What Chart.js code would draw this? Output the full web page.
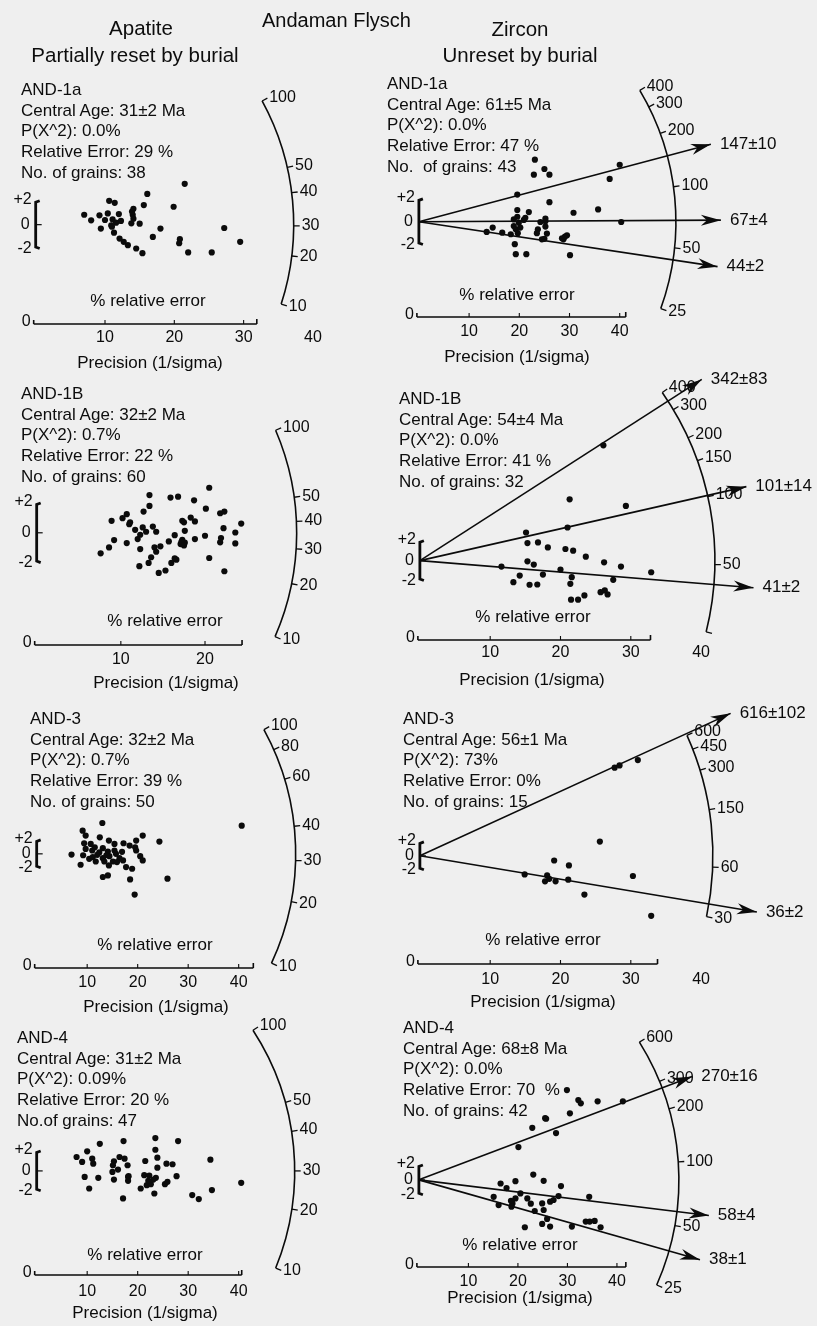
<!DOCTYPE html>
<html>
<head>
<meta charset="utf-8">
<title>Andaman Flysch - radial plots</title>
<script src="https://cdn.jsdelivr.net/npm/chart.js@4.4.1/dist/chart.umd.min.js"></script>
<style>
  body { margin: 0; background: #efefef; }
  #wrap { position: relative; width: 817px; height: 1326px; overflow: hidden;
          font-family: "Liberation Sans", Arial, sans-serif; color: #0d0d0d; }
  #wrap canvas { position: absolute; left: 0; top: 0; }
  .lbl { position: absolute; white-space: pre; line-height: 1; }
</style>
</head>
<body>
<div id="wrap"><canvas id="radial" width="817" height="1326"></canvas></div>
<script>
// grains: [precision (1/sigma), standardised estimate]
var apaAnd1a = [[21.5,3.42],[16.1,2.58],[10.6,2.0],[11.4,1.83],[15.6,1.64],[19.9,1.5],[14.1,1.33],[7.0,0.83],[9.2,0.78],[10.4,0.94],
  [12.0,0.89],[14.0,0.83],[8.0,0.36],[10.0,0.39],[11.1,0.44],[12.3,0.31],[13.8,0.11],[15.0,0.08],[27.2,-0.28],[18.0,-0.33],
  [9.4,-0.33],[11.0,-0.17],[11.3,-0.67],[16.9,-1.03],[12.1,-1.17],[20.8,-1.22],[20.7,-1.56],[12.7,-1.44],[13.3,-1.72],[14.5,-2.0],
  [15.4,-2.39],[22.0,-2.33],[25.4,-2.33],[29.5,-1.44],[14.1,0.5],[11.6,0.17],[10.9,-0.06],[13.9,1.1]];
var zirAnd1a = [[23.1,5.42],[25.0,4.61],[22.9,4.11],[26.0,4.11],[40.0,4.98],[38.0,3.74],[19.6,2.37],[26.0,1.71],[35.7,1.07],[30.8,0.78],
  [19.6,1.02],[21.9,0.84],[25.2,0.26],[19.6,0.43],[20.9,0.15],[19.9,-0.09],[18.9,-0.38],[40.3,-0.03],[25.2,-0.43],[23.7,-0.67],
  [13.5,-0.9],[14.7,-0.52],[16.6,-0.96],[18.3,-1.1],[19.7,-1.01],[23.5,-1.01],[25.5,-1.04],[24.5,-1.54],[25.0,-1.5],[28.8,-1.54],
  [29.5,-1.19],[29.1,-1.3],[19.1,-1.97],[19.3,-2.84],[21.4,-2.84],[30.1,-2.93],[19.3,-0.67],[20.2,-0.52],[21.2,0.34],[18.9,0.2],
  [24.2,-0.03],[28.5,-1.45],[25.2,0.03]];
var apaAnd1b = [[20.5,3.02],[13.4,2.53],[15.9,2.36],[16.8,2.42],[18.7,2.18],[13.4,1.8],[12.7,1.42],[20.1,1.62],[21.8,1.31],[22.3,1.42],
  [10.7,1.25],[10.2,0.98],[18.3,1.02],[17.3,0.8],[17.5,0.7],[8.9,0.8],[11.0,0.58],[11.7,0.2],[13.8,0.42],[14.2,0.07],
  [24.3,0.62],[22.2,0.31],[23.6,0.02],[13.0,0.07],[12.3,-0.13],[12.0,-0.42],[16.4,-0.16],[17.6,0.13],[18.8,-0.42],[20.0,-0.2],
  [17.3,-0.47],[17.1,-0.76],[17.6,-0.66],[15.7,-0.58],[14.7,-0.91],[14.0,-0.98],[12.3,-1.09],[10.7,-0.69],[9.2,-0.49],[8.6,-0.98],
  [7.6,-1.38],[21.8,-0.64],[21.9,-0.35],[14.2,-1.27],[13.6,-1.64],[13.3,-2.02],[20.5,-1.69],[16.4,-1.71],[16.0,-2.02],[12.2,-2.24],
  [14.5,-2.69],[15.3,-2.53],[22.3,-2.58],[18.8,0.76],[17.2,-0.6],[12.6,0.36],[23.6,-0.71],[11.1,0.7],[17.5,-0.85],[16.6,-1.8]];
var zirAnd1b = [[26.1,11.6],[21.3,6.17],[29.3,5.5],[21.0,3.33],[15.1,2.83],[15.3,1.77],[16.8,1.83],[18.2,1.33],[20.7,1.17],[21.8,1.0],
  [23.6,0.4],[15.3,-0.07],[16.2,-0.4],[26.2,-0.17],[28.6,-0.6],[32.9,-1.17],[11.6,-0.6],[20.0,-0.9],[14.2,-1.5],[17.5,-1.4],
  [21.6,-1.67],[27.5,-1.93],[13.3,-2.17],[15.6,-2.43],[16.7,-2.4],[21.4,-2.33],[25.7,-3.17],[26.7,-3.4],[26.3,-3.0],[23.4,-3.5],
  [21.5,-3.93],[22.5,-3.93]];
var apaAnd3 = [[40.6,4.05],[13.0,4.43],[9.1,3.33],[9.7,2.62],[12.5,2.38],[14.3,1.9],[21.0,2.62],[24.3,1.76],[19.7,1.9],[15.4,1.43],
  [17.2,1.52],[9.4,1.52],[18.4,1.19],[19.5,0.95],[6.9,-0.1],[9.7,0.71],[11.0,0.48],[13.1,0.81],[14.1,0.33],[15.4,0.48],
  [12.0,-0.14],[13.1,-0.62],[14.4,-0.33],[15.7,0],[16.4,-0.62],[17.1,-0.95],[20.5,-0.33],[21.0,-0.95],[10.4,-0.71],[8.7,-1.57],
  [11.7,-1.1],[13.4,-1.1],[15.1,-1.1],[17.7,-1.9],[18.9,-2.14],[18.5,-3.67],[13.1,-3.33],[14.1,-3.1],[25.9,-3.57],[19.4,-5.86],
  [12.4,0.2],[13.8,-0.2],[9.2,-0.2],[11.5,0.95],[16.9,0.29],[11.1,-0.48],[15.9,-1.19],[19.7,0.48],[14.3,-1.67],[10.7,1.43]];
var zirAnd3 = [[31.0,13.76],[28.4,13.0],[27.7,12.67],[25.6,2.05],[19.1,-0.67],[21.2,-1.38],[14.9,-2.67],[18.1,-2.81],[17.8,-3.67],[19.3,-3.67],
  [21.1,-3.43],[30.3,-2.9],[23.4,-5.57],[32.9,-8.62],[18.4,-3.3]];
var apaAnd4 = [[23.5,3.3],[28.0,3.0],[17.2,3.0],[12.5,2.73],[23.5,2.13],[10.0,1.97],[7.9,1.4],[9.0,0.9],[11.0,1.23],[11.2,0.73],
  [16.4,1.4],[17.4,1.23],[15.3,0.97],[15.1,0.57],[18.0,0.57],[21.5,1.0],[23.9,1.33],[25.7,0.73],[26.9,0.67],[23.9,0.33],
  [34.4,1.13],[15.0,-0.1],[16.1,0.13],[9.5,-0.6],[12.2,-0.7],[15.3,-0.87],[18.2,-0.53],[18.1,-0.6],[21.3,-0.43],[23.6,-0.7],
  [27.7,-0.53],[18.1,-1.0],[10.4,-1.77],[20.6,-1.77],[21.8,-1.43],[22.6,-1.33],[23.1,-0.87],[22.1,-1.0],[25.4,-1.33],[25.9,-1.1],
  [23.3,-2.27],[17.1,-2.77],[30.8,-2.43],[32.1,-2.83],[34.7,-1.93],[40.5,-1.2],[22.3,-0.47]];
var zirAnd4 = [[29.9,12.04],[32.2,10.71],[32.7,10.27],[36.1,10.53],[41.2,10.53],[30.5,8.93],[25.5,8.27],[25.7,8.2],[22.9,6.98],[27.7,6.27],
  [20.1,4.4],[23.1,0.71],[19.5,-0.18],[25.2,-0.13],[16.5,-0.49],[28.7,-0.84],[20.5,-1.82],[21.9,-2.49],[19.5,-2.49],[15.1,-2.27],
  [16.1,-3.38],[18.9,-3.16],[18.7,-3.6],[24.9,-3.16],[26.5,-2.93],[28.2,-2.18],[34.4,-2.27],[23.4,-4.18],[25.2,-4.04],[25.9,-5.24],
  [24.9,-5.91],[26.5,-6.27],[21.4,-6.36],[30.9,-6.27],[33.7,-5.6],[34.5,-5.6],[35.5,-5.51],[36.7,-6.36],[17.7,-1.1],[22.6,-3.2],
  [18.6,-2.8],[27.2,-2.7]];

// sample statistics printed beside each plot
var infoApa1a = ['AND-1a', 'Central Age: 31\u00b12 Ma', 'P(X^2): 0.0%', 'Relative Error: 29 %', 'No. of grains: 38'];
var infoZir1a = ['AND-1a', 'Central Age: 61\u00b15 Ma', 'P(X^2): 0.0%', 'Relative Error: 47 %', 'No.  of grains: 43'];
var infoApa1b = ['AND-1B', 'Central Age: 32\u00b12 Ma', 'P(X^2): 0.7%', 'Relative Error: 22 %', 'No. of grains: 60'];
var infoZir1b = ['AND-1B', 'Central Age: 54\u00b14 Ma', 'P(X^2): 0.0%', 'Relative Error: 41 %', 'No. of grains: 32'];
var infoApa3 = ['AND-3', 'Central Age: 32\u00b12 Ma', 'P(X^2): 0.7%', 'Relative Error: 39 %', 'No. of grains: 50'];
var infoZir3 = ['AND-3', 'Central Age: 56\u00b11 Ma', 'P(X^2): 73%', 'Relative Error: 0%', 'No. of grains: 15'];
var infoApa4 = ['AND-4', 'Central Age: 31\u00b12 Ma', 'P(X^2): 0.09%', 'Relative Error: 20 %', 'No.of grains: 47'];
var infoZir4 = ['AND-4', 'Central Age: 68\u00b18 Ma', 'P(X^2): 0.0%', 'Relative Error: 70  %', 'No. of grains: 42'];

// age scales (Ma) on the arcs and the component ages with arrows
var apaArcTicks = [100, 50, 40, 30, 20, 10];
var apa3ArcTicks = [100, 80, 60, 40, 30, 20, 10];
var zir1aArcTicks = [400, 300, 200, 100, 50, 25];
var zir1bArcTicks = [400, 300, 200, 150, 100, 50];
var zir3ArcTicks = [600, 450, 300, 150, 60, 30];
var zir4ArcTicks = [600, 300, 200, 100, 50, 25];
var zir1aPeaks = [147, 67, 44];
var zir1aPeakLabels = ['147\u00b110', '67\u00b14', '44\u00b12'];
var zir1bPeaks = [342, 101, 41];
var zir1bPeakLabels = ['342\u00b183', '101\u00b114', '41\u00b12'];
var zir3Peaks = [616, 36];
var zir3PeakLabels = ['616\u00b1102', '36\u00b12'];
var zir4Peaks = [270, 58, 38];
var zir4PeakLabels = ['270\u00b116', '58\u00b14', '38\u00b11'];
var precisionTicks = [10, 20, 30, 40];
var precisionTicksShort = [10, 20];

var W = 817, H = 1326;
var INK = '#0b0b0b';
var FONT = '"Liberation Sans", Arial, sans-serif';

// where each radial plot sits on the page
var panels = [
  { key: 'A1', pts: apaAnd1a, info: infoApa1a, infoX: 21, infoY: 89,
    ox: 32, oy: 222, sx: 7.0, sy: 12, R: 258, t0: 30.5, kUp: 0.46, kDown: 0.29,
    arcEnds: [100, 10], arcTicks: apaArcTicks, axisY: 324, axisEnd: 31.9, labDy: 14, precTicks: precisionTicks,
    relX: 148, relY: 301, precX: 150, precY: 363 },
  { key: 'A2', pts: apaAnd1b, info: infoApa1b, infoX: 21, infoY: 393,
    ox: 33, oy: 532, sx: 8.5, sy: 15, R: 260, t0: 36, kUp: 0.42, kDown: 0.34,
    arcEnds: [100, 10], arcTicks: apaArcTicks, axisY: 645, axisEnd: 24.4, labDy: 15, precTicks: precisionTicksShort,
    relX: 165, relY: 621, precX: 166, precY: 683 },
  { key: 'A3', pts: apaAnd3, info: infoApa3, infoX: 30, infoY: 718,
    ox: 33, oy: 855, sx: 5.1, sy: 7, R: 259, t0: 32, kUp: 0.48, kDown: 0.4,
    arcEnds: [100, 10], arcTicks: apa3ArcTicks, axisY: 968, axisEnd: 42.9, labDy: 15, precTicks: precisionTicks,
    relX: 155, relY: 945, precX: 156, precY: 1007 },
  { key: 'A4', pts: apaAnd4, info: infoApa4, infoX: 17, infoY: 1037,
    ox: 33, oy: 1174, sx: 5.1, sy: 10, R: 258, t0: 30, kUp: 0.54, kDown: 0.37,
    arcEnds: [100, 10], arcTicks: apaArcTicks, axisY: 1275, axisEnd: 40.6, labDy: 17, precTicks: precisionTicks,
    relX: 145, relY: 1255, precX: 145, precY: 1313 },
  { key: 'Z1', pts: zirAnd1a, info: infoZir1a, infoX: 387, infoY: 83,
    ox: 419, oy: 219, sx: 5.07, sy: 11.5, R: 257, t0: 66, kUp: 0.33, kDown: 0.37,
    arcEnds: [400, 25], arcTicks: zir1aArcTicks, peaks: zir1aPeaks, peakLabels: zir1aPeakLabels, tipR: 305,
    axisY: 317, axisEnd: 41.2, labDy: 15, precTicks: precisionTicks,
    relX: 517, relY: 295, precX: 517, precY: 357 },
  { key: 'Z2', pts: zirAnd1b, info: infoZir1b, infoX: 399, infoY: 398,
    ox: 420, oy: 560, sx: 7.1, sy: 10, R: 295, t0: 52, kUp: 0.34, kDown: 0.34,
    arcEnds: [400, 25], arcTicks: zir1bArcTicks, peaks: zir1bPeaks, peakLabels: zir1bPeakLabels, tipR: 338,
    axisY: 640, axisEnd: 32.8, labDy: 13, precTicks: precisionTicks,
    relX: 533, relY: 617, precX: 532, precY: 680 },
  { key: 'Z3', pts: zirAnd3, info: infoZir3, infoX: 403, infoY: 718,
    ox: 420, oy: 857, sx: 7.1, sy: 7, R: 293, t0: 70, kUp: 0.21, kDown: 0.25,
    arcEnds: [600, 30], arcTicks: zir3ArcTicks, peaks: zir3Peaks, peakLabels: zir3PeakLabels, tipR: 345,
    axisY: 964, axisEnd: 33.8, labDy: 16, precTicks: precisionTicks,
    relX: 543, relY: 940, precX: 543, precY: 1002 },
  { key: 'Z4', pts: zirAnd4, info: infoZir4, infoX: 403, infoY: 1027,
    ox: 419, oy: 1183, sx: 5.0, sy: 7.5, R: 260, t0: 80, kUp: 0.31, kDown: 0.38,
    arcEnds: [600, 25], arcTicks: zir4ArcTicks, peaks: zir4Peaks, peakLabels: zir4PeakLabels, tipR: 295,
    axisY: 1267, axisEnd: 41.8, labDy: 15, precTicks: precisionTicks,
    relX: 520, relY: 1245, precX: 520, precY: 1298 }
];

// angle (radians, up = positive) of the ray for an age on a panel's log age scale
function ageAngle(p, t) {
  var r = Math.log(t / p.t0);
  return Math.atan((r > 0 ? p.kUp : p.kDown) * r);
}

var wrap = document.getElementById('wrap');
function addText(txt, x, y, size, align) {
  var d = document.createElement('div');
  d.className = 'lbl';
  d.textContent = txt;
  d.style.left = x + 'px';
  d.style.top = y + 'px';
  d.style.fontSize = size + 'px';
  d.style.transform = align === 'center' ? 'translate(-50%,-50%)' : 'translate(0,-50%)';
  wrap.appendChild(d);
}

addText('Apatite', 141, 28, 20.5, 'center');
addText('Partially reset by burial', 135, 55, 20.5, 'center');
addText('Andaman Flysch', 262, 20, 20, 'left');
addText('Zircon', 520, 29, 20.5, 'center');
addText('Unreset by burial', 520, 55, 20.5, 'center');
panels.forEach(function (p) {
  p.info.forEach(function (line, i) {
    addText(line, p.infoX, p.infoY + i * 20.7, 17, 'left');
  });
});

var scales = {
  x: { type: 'linear', display: false },
  y: { type: 'linear', display: false }
};
var datasets = [];
panels.forEach(function (p) {
  var xId = 'x' + p.key, yId = 'y' + p.key;
  scales[xId] = { type: 'linear', axis: 'x', position: 'bottom', display: false,
                  min: -p.ox / p.sx, max: (W - p.ox) / p.sx };
  scales[yId] = { type: 'linear', axis: 'y', position: 'left', display: false,
                  min: -(H - p.oy) / p.sy, max: p.oy / p.sy };
  (p.peaks || []).forEach(function (age, i) {
    var a = ageAngle(p, age);
    var xEnd = p.tipR * Math.cos(a) / p.sx;
    var slope = Math.tan(a) * p.sx / p.sy;
    datasets.push({
      data: [{ x: 0, y: 0 }, { x: xEnd, y: xEnd * slope }],
      xAxisID: xId, yAxisID: yId,
      showLine: true, borderColor: INK, borderWidth: 1.6,
      pointRadius: 0, fill: false, arrowLabel: p.peakLabels[i]
    });
  });
  datasets.push({
    data: p.pts.map(function (d) { return { x: d[0], y: d[1] }; }),
    xAxisID: xId, yAxisID: yId,
    pointRadius: 3.1, pointBackgroundColor: INK, pointBorderWidth: 0
  });
});

var radialDecor = {
  id: 'radialDecor',
  afterDatasetsDraw: function (chart) {
    var ctx = chart.ctx;
    ctx.save();
    ctx.strokeStyle = INK;
    ctx.fillStyle = INK;
    panels.forEach(function (p) {
      var xs = chart.scales['x' + p.key], ys = chart.scales['y' + p.key];
      var ox = xs.getPixelForValue(0), oy = ys.getPixelForValue(0);
      var yTop = ys.getPixelForValue(2), yBot = ys.getPixelForValue(-2);

      // +-2 bracket at the origin
      ctx.lineWidth = 2.8;
      ctx.beginPath();
      ctx.moveTo(ox + 4, yTop); ctx.lineTo(ox, yTop + 1.5);
      ctx.lineTo(ox, yBot - 1.5); ctx.lineTo(ox + 4, yBot);
      ctx.stroke();
      ctx.lineWidth = 1.2;
      ctx.beginPath(); ctx.moveTo(ox, oy); ctx.lineTo(ox + 6, oy); ctx.stroke();
      ctx.font = '16px ' + FONT;
      ctx.textAlign = 'right';
      ctx.textBaseline = 'middle';
      ctx.fillText('+2', ox - 4, yTop - 1);
      ctx.fillText('0', ox - 6, oy);
      ctx.fillText('-2', ox - 4, yBot);

      // precision axis
      var ay = p.axisY, xEnd = xs.getPixelForValue(p.axisEnd);
      ctx.lineWidth = 1.6;
      ctx.beginPath(); ctx.moveTo(ox - 2, ay); ctx.lineTo(xEnd, ay);
      ctx.moveTo(ox - 2, ay); ctx.lineTo(ox - 2, ay - 4);
      ctx.moveTo(xEnd, ay); ctx.lineTo(xEnd, ay - 5);
      ctx.stroke();
      ctx.lineWidth = 1.1;
      ctx.textAlign = 'center';
      p.precTicks.forEach(function (v) {
        var x = xs.getPixelForValue(v);
        if (v < p.axisEnd) {
          ctx.beginPath(); ctx.moveTo(x, ay); ctx.lineTo(x, ay - 4); ctx.stroke();
        }
        ctx.fillText(String(v), x, ay + p.labDy);
      });
      ctx.textAlign = 'right';
      ctx.fillText('0', ox - 5, ay - 2);
      ctx.font = '17px ' + FONT;
      ctx.textAlign = 'center';
      ctx.fillText('% relative error', p.relX, p.relY);
      ctx.fillText('Precision (1/sigma)', p.precX, p.precY);

      // age arc with its scale
      var aTop = ageAngle(p, p.arcEnds[0]), aBot = ageAngle(p, p.arcEnds[1]);
      ctx.lineWidth = 1.6;
      ctx.beginPath(); ctx.arc(ox, oy, p.R, -aTop, -aBot, false); ctx.stroke();
      ctx.font = '16px ' + FONT;
      ctx.textAlign = 'left';
      var ends = p.arcEnds.filter(function (t) { return p.arcTicks.indexOf(t) < 0; });
      p.arcTicks.concat(ends).forEach(function (t) {
        var a = ageAngle(p, t), c = Math.cos(a), s = Math.sin(a);
        ctx.lineWidth = 1.3;
        ctx.beginPath();
        ctx.moveTo(ox + p.R * c, oy - p.R * s);
        ctx.lineTo(ox + (p.R + 6) * c, oy - (p.R + 6) * s);
        ctx.stroke();
        if (p.arcTicks.indexOf(t) >= 0) {
          ctx.fillText(String(t), ox + (p.R + 8) * c, oy - (p.R + 8) * s);
        }
      });
    });

    // arrow heads and component ages
    ctx.font = '17px ' + FONT;
    ctx.textAlign = 'left';
    ctx.textBaseline = 'middle';
    chart.data.datasets.forEach(function (ds, i) {
      if (!ds.arrowLabel) return;
      var pts = chart.getDatasetMeta(i).data;
      var a = pts[0], b = pts[1];
      var dx = b.x - a.x, dy = b.y - a.y, len = Math.hypot(dx, dy);
      var ux = dx / len, uy = dy / len, nx = -uy, ny = ux;
      ctx.beginPath();
      ctx.moveTo(b.x, b.y);
      ctx.lineTo(b.x - 20 * ux + 5.5 * nx, b.y - 20 * uy + 5.5 * ny);
      ctx.lineTo(b.x - 14 * ux, b.y - 14 * uy);
      ctx.lineTo(b.x - 20 * ux - 5.5 * nx, b.y - 20 * uy - 5.5 * ny);
      ctx.closePath();
      ctx.fill();
      ctx.fillText(ds.arrowLabel, b.x + 9, b.y);
    });
    ctx.restore();
  }
};

new Chart(document.getElementById('radial'), {
  type: 'scatter',
  data: { datasets: datasets },
  options: {
    responsive: false,
    animation: false,
    devicePixelRatio: 1,
    layout: { padding: 0 },
    scales: scales,
    plugins: { legend: { display: false }, tooltip: { enabled: false } }
  },
  plugins: [radialDecor]
});
</script>
</body>
</html>
